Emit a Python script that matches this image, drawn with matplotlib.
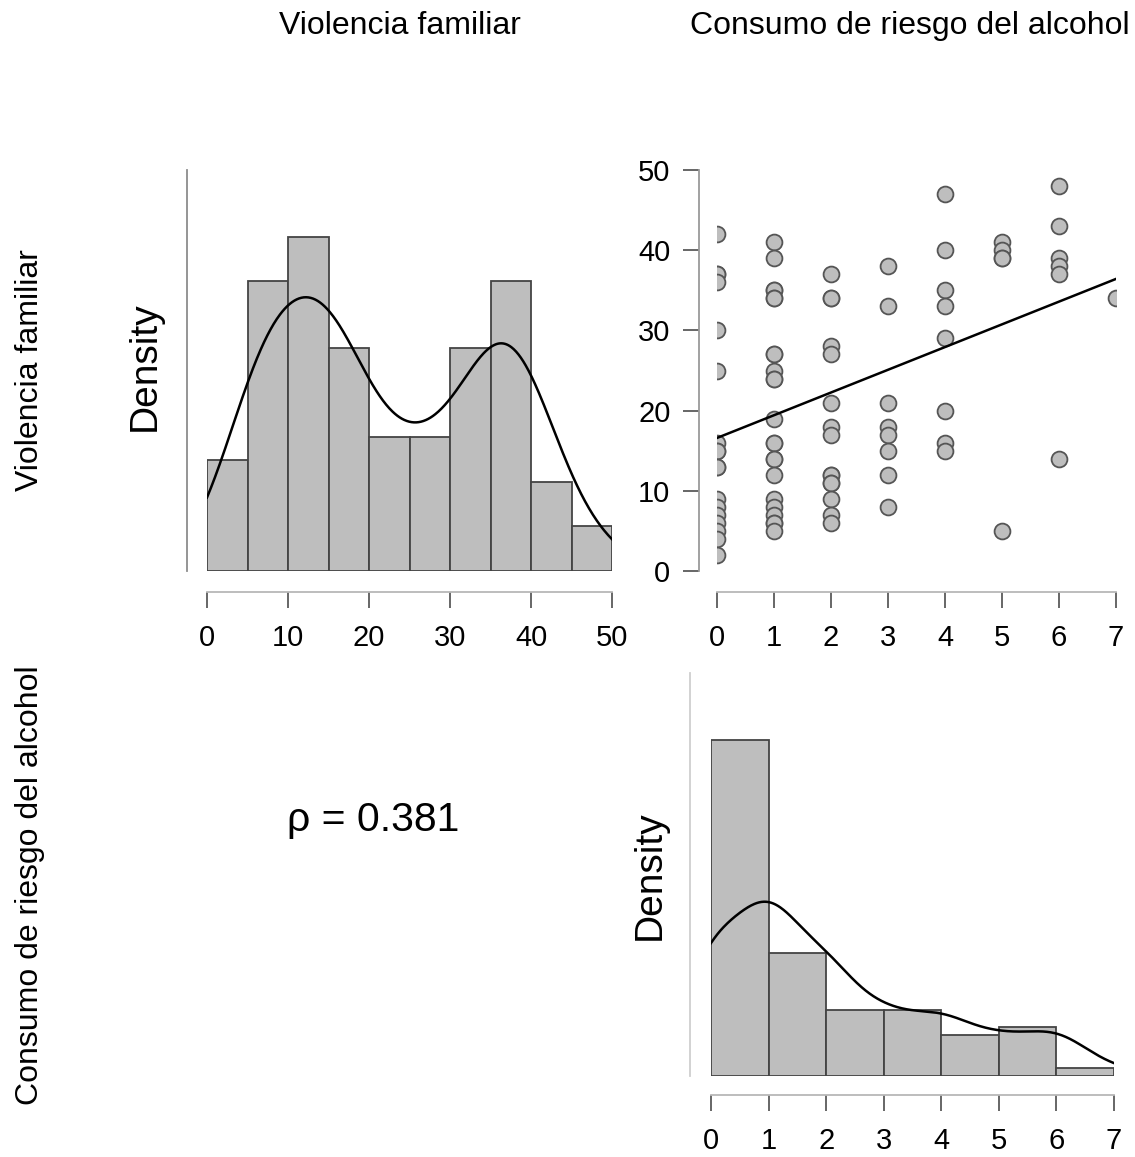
import numpy as np
import matplotlib
matplotlib.use("Agg")
import matplotlib.pyplot as plt

plt.rcParams['font.family'] = ['Liberation Sans', 'DejaVu Sans']

# ---- data ----
consumo_alcohol = ([0] * 18 + [1] * 23 + [2] * 15 + [3] * 8 + [4] * 8 + [5] * 5 + [6] * 6 + [7] * 1)
violencia_familiar = (
    [42, 37, 37, 36, 30, 25, 16, 15, 15, 13, 13, 9, 8, 7, 6, 5, 4, 2]
    + [41, 39, 35, 35, 34, 34, 27, 27, 25, 24, 24, 19, 16, 16, 14, 14, 12, 9, 8, 7, 6, 6, 5]
    + [37, 34, 34, 28, 27, 21, 18, 17, 12, 12, 11, 11, 9, 7, 6]
    + [38, 33, 21, 18, 17, 15, 12, 8]
    + [47, 40, 35, 33, 29, 20, 16, 15]
    + [41, 40, 39, 39, 5]
    + [48, 43, 39, 38, 37, 14]
    + [34]
)
var_names = ["Violencia familiar", "Consumo de riesgo del alcohol"]
violencia_ticks = [0, 10, 20, 30, 40, 50]
alcohol_ticks = [0, 1, 2, 3, 4, 5, 6, 7]
violencia_breaks = [0, 5, 10, 15, 20, 25, 30, 35, 40, 45, 50]
alcohol_breaks = [0, 1, 2, 3, 4, 5, 6, 7]
rho_text = "\u03c1 = 0.381"

x = np.array(consumo_alcohol, dtype=float)
y = np.array(violencia_familiar, dtype=float)

W, H = 1135, 1157
fig = plt.figure(figsize=(W / 100, H / 100), dpi=100)


def rect(left, top, right, bottom):
    return [left / W, 1 - bottom / H, (right - left) / W, (bottom - top) / H]


BAR = "#bebebe"
EDGE = "#444444"
TICKC = "#5a5a5a"
TICKFS = 21


def kde(data, grid):
    n = len(data)
    sd = np.std(data, ddof=1)
    q1, q3 = np.percentile(data, [25, 75])
    lo = min(sd, (q3 - q1) / 1.34)
    bw = 0.9 * lo * n ** (-0.2)
    z = (grid[:, None] - data[None, :]) / bw
    return np.exp(-0.5 * z ** 2).sum(axis=1) / (n * bw * np.sqrt(2 * np.pi))


def hist_panel(ax, data, breaks, ticks, spine_col, left_out, bottom_out):
    breaks = np.array(breaks, dtype=float)
    idx = np.digitize(data, breaks, right=True)
    idx = np.clip(idx, 1, len(breaks) - 1)
    counts = np.bincount(idx - 1, minlength=len(breaks) - 1)
    widths = np.diff(breaks)
    dens = counts / (len(data) * widths)
    ax.bar(breaks[:-1], dens, width=widths, align='edge', color=BAR,
           edgecolor=EDGE, linewidth=1.3)
    grid = np.linspace(breaks[0], breaks[-1], 512)
    ax.plot(grid, kde(data, grid), color="black", lw=1.8)
    ax.set_xlim(breaks[0], breaks[-1])
    ax.set_ylim(0, 1.2 * dens.max())
    for s in ["top", "right"]:
        ax.spines[s].set_visible(False)
    ax.spines["left"].set_position(("outward", left_out))
    ax.spines["left"].set_color(spine_col)
    ax.spines["left"].set_linewidth(1.3)
    ax.spines["bottom"].set_position(("outward", bottom_out))
    ax.spines["bottom"].set_color("#b8b8b8")
    ax.spines["bottom"].set_linewidth(1.3)
    ax.spines["bottom"].set_bounds(ticks[0], ticks[-1])
    ax.set_yticks([])
    ax.set_xticks(ticks)
    ax.tick_params(axis="x", length=11.5, width=1.3, color=TICKC,
                   labelsize=TICKFS, pad=11.5)
    ax.set_ylabel("Density", fontsize=28)
    ax.yaxis.label.set_horizontalalignment("center")
    ax.yaxis.label.set_verticalalignment("center")
    ax.patch.set_alpha(0)


# Top-left histogram
ax1 = fig.add_axes(rect(207, 170, 612, 571))
hist_panel(ax1, y, violencia_breaks, violencia_ticks, "#8c8c8c", 14.4, 15.1)
ax1.yaxis.set_label_coords(145 / W, 1 - 366 / H, transform=fig.transFigure)

# Bottom-right histogram
ax4 = fig.add_axes(rect(711, 673, 1114, 1076))
hist_panel(ax4, x, alcohol_breaks, alcohol_ticks, "#cfcfcf", 15.1, 13.7)
ax4.yaxis.set_label_coords(650 / W, 1 - 875 / H, transform=fig.transFigure)

# Scatter
ax2 = fig.add_axes(rect(717, 170, 1116, 571))
ax2.scatter(x, y, s=130, facecolor=BAR, edgecolor="#555555", linewidths=1.3, zorder=3)
coef = np.polyfit(x, y, 1)
xl = np.array([x.min(), x.max()])
ax2.plot(xl, np.polyval(coef, xl), color="black", lw=1.8, zorder=4)
ax2.set_xlim(0, 7)
ax2.set_ylim(0, 50)
for s in ["top", "right"]:
    ax2.spines[s].set_visible(False)
ax2.spines["left"].set_position(("outward", 13))
ax2.spines["left"].set_color("#9a9a9a")
ax2.spines["left"].set_linewidth(1.3)
ax2.spines["left"].set_bounds(0, 50)
ax2.spines["bottom"].set_position(("outward", 15.1))
ax2.spines["bottom"].set_color("#b8b8b8")
ax2.spines["bottom"].set_linewidth(1.3)
ax2.spines["bottom"].set_bounds(0, 7)
ax2.set_xticks(alcohol_ticks)
ax2.set_yticks(violencia_ticks)
ax2.tick_params(axis="both", length=11.5, width=1.3, color=TICKC, labelsize=TICKFS)
ax2.tick_params(axis="x", pad=11.5)
ax2.tick_params(axis="y", pad=9)
ax2.patch.set_alpha(0)

# Correlation text
fig.text(373 / W, 1 - 820 / H, rho_text, fontsize=29.5, ha="center", va="center")

# Column and row labels
fig.text(400 / W, 1 - 26 / H, var_names[0], fontsize=23, ha="center", va="center")
fig.text(910 / W, 1 - 26 / H, var_names[1], fontsize=23, ha="center", va="center")
fig.text(30 / W, 1 - 370 / H, var_names[0], fontsize=23, ha="center", va="center", rotation=90)
fig.text(30 / W, 1 - 885 / H, var_names[1], fontsize=23, ha="center", va="center", rotation=90)

fig.savefig("out.png", dpi=100, facecolor="white")
